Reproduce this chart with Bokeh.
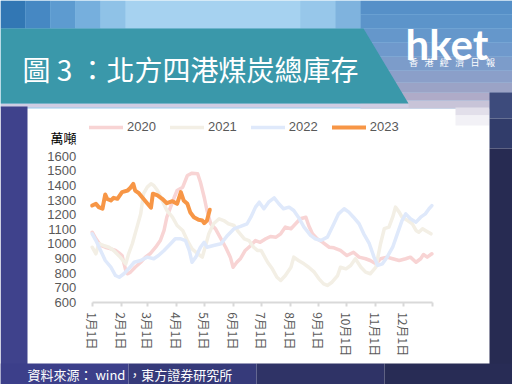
from bokeh.plotting import figure
from bokeh.models import (FixedTicker, Legend, LegendItem, Label, LinearAxis, Range1d)
from bokeh.embed import file_html
from bokeh.resources import INLINE

title_text = "圖 3 ：北方四港煤炭總庫存"
source_text = "資料來源： wind ，東方證券研究所"
unit_text = "萬噸"
logo_text = "hket"
logo_sub = ["香", "港", "經", "濟", "日", "報"]

month_days = [0, 31, 59, 90, 120, 151, 181, 212, 243, 273, 304, 334, 365]
month_labels = ["1月1日", "2月1日", "3月1日", "4月1日", "5月1日", "6月1日",
                "7月1日", "8月1日", "9月1日", "10月1日", "11月1日", "12月1日", ""]
y_ticks = [600, 700, 800, 900, 1000, 1100, 1200, 1300, 1400, 1500, 1600]

days_2020 = [0,4,9,14,20,25,29,32,36,38,41,46,52,57,62,68,73,77,80,84,88,91,97,102,107,113,116,120,123,127,
             132,138,143,148,151,155,159,164,170,175,180,186,191,197,202,207,213,218,223,229,232,236,241,247,254,
             259,266,273,280,286,293,298,304,309,316,322,329,336,341,347,352,355,359,364]
vals_2020 = [1080,1035,989,977,966,955,936,920,817,795,806,840,874,909,932,977,1023,1092,1183,1252,1320,1366,
             1389,1469,1485,1481,1423,1320,1229,1138,1104,1035,977,909,840,874,900,955,989,1023,1011,1035,1051,
             1046,1069,1115,1104,1138,1172,1183,1126,1069,1035,1011,977,973,955,920,943,909,898,886,863,898,909,
             898,886,898,909,874,898,927,909,932]

days_2021 = [0,4,7,12,18,23,30,36,39,43,48,52,55,59,63,66,70,75,80,86,91,97,102,107,113,118,121,125,130,136,
             141,146,152,157,163,168,173,177,181,188,193,198,202,207,213,216,221,227,232,238,243,248,252,257,263,
             266,272,277,282,288,293,298,304,309,313,318,322,325,329,332,338,343,347,350,354,357,363]
vals_2021 = [977,932,1001,989,977,955,909,863,932,1001,1115,1206,1344,1389,1412,1400,1366,1298,1229,1183,1126,
             1092,1023,966,932,909,977,1069,1138,1172,1160,1138,1126,1080,1035,1023,977,955,955,874,829,771,749,
             783,840,909,886,863,840,806,760,726,715,737,783,840,829,852,898,840,806,795,840,1001,1104,1115,1183,
             1252,1218,1183,1160,1138,1092,1080,1104,1092,1069]

days_2022 = [0,4,9,14,20,25,29,34,39,45,52,59,66,71,77,84,89,95,100,104,107,111,116,120,123,130,138,145,152,159,
             166,170,175,179,184,189,195,200,205,211,216,221,227,234,239,245,252,259,264,270,275,280,286,291,297,
             302,306,311,316,322,327,332,336,341,347,352,357,361,364]
vals_2022 = [1069,1023,955,886,840,783,771,795,829,874,886,909,898,920,955,1001,1035,1035,1023,955,874,909,977,
             1011,977,989,1001,1058,1104,1120,1138,1183,1252,1286,1241,1286,1316,1275,1241,1252,1229,1183,1115,
             1058,1035,1023,1046,1138,1206,1241,1218,1183,1138,1069,1001,909,852,863,909,977,1069,1160,1206,1172,
             1149,1183,1206,1241,1263]

days_2023 = [0,4,7,11,14,16,20,23,27,32,38,41,44,46,50,54,58,63,65,70,75,80,86,91,95,98,102,105,109,114,118,120,123,126]
vals_2023 = [1263,1275,1252,1241,1339,1309,1298,1316,1309,1355,1366,1385,1412,1366,1348,1316,1286,1248,1344,1332,
             1309,1279,1293,1275,1355,1298,1275,1217,1183,1165,1160,1142,1160,1234]

series_names = ["2020", "2021", "2022", "2023"]
series_days = [days_2020, days_2021, days_2022, days_2023]
series_vals = [vals_2020, vals_2021, vals_2022, vals_2023]
series_colors = ["#f8d4d4", "#f3efe5", "#dfe9fb", "#f79646"]
series_widths = [3.5, 3.5, 3.5, 4]

# ---- layout (canvas pixels, top-left origin) ----
W, H = 512, 384
chart_left, chart_right = 91.7, 432.3
chart_top, chart_bottom = 155.9, 301.7
x_min, x_max = 0, 365
y_min, y_max = 600, 1600
kx = (chart_right - chart_left) / (x_max - x_min)
ky = (chart_bottom - chart_top) / (y_max - y_min)
days_range = Range1d(x_min - chart_left / kx, x_max + (W - chart_right) / kx)
vals_range = Range1d(y_min - (H - chart_bottom) / ky, y_max + chart_top / ky)

p = figure(width=W, height=H, x_range=Range1d(0, W), y_range=Range1d(H, 0),
           x_axis_location=None, y_axis_location=None,
           output_backend="svg", toolbar_location=None, min_border=0)
p.extra_x_ranges = {"days": days_range}
p.extra_y_ranges = {"vals": vals_range}
p.outline_line_color = None
p.border_fill_color = "white"
p.background_fill_color = "white"
p.xgrid.visible = False
p.ygrid.visible = False

# ---- page decorations ----
boxes = [
    (0, 512, 0, 108, "#98caec"),
    (0, 25, 0, 28, "#3277b4"),
    (25, 50, 0, 28, "#4688c3"),
    (50, 75, 0, 28, "#5d9bd0"),
    (75, 100, 0, 28, "#76afdd"),
    (100, 125, 0, 28, "#8fc2e7"),
    (125, 300, 0, 28, "#a6d2f0"),
    (300, 335, 0, 28, "#97c7ea"),
    (335, 360, 0, 28, "#7fb3de"),
    (360, 512, 0, 14, "#5690c8"),
    (360, 512, 14, 28, "#5c94ca"),
    (360, 512, 28, 42, "#6597cb"),
    (360, 512, 42, 56, "#6f99cc"),
    (360, 512, 56, 70, "#7c9cca"),
    (360, 512, 70, 82, "#8b9fc9"),
    (360, 512, 82, 92, "#9ba3c6"),
    (360, 512, 92, 100, "#afabc8"),
    (360, 512, 100, 108, "#c8c4d8"),
    (0, 408, 103, 107, "#cfcde3"),
    (455, 489, 107, 115, "#e2dfea"),
    (455, 489, 115, 125, "#f2f1f6"),
    (0, 27, 106, 384, "#3f428c"),
    (489, 512, 92, 118, "#3d4b7c"),
    (489, 512, 118, 148, "#313c6a"),
    (489, 512, 148, 384, "#272b52"),
    (0, 128, 363, 384, "#3c3f8a"),
    (128, 256, 363, 384, "#363a7a"),
    (256, 384, 363, 384, "#2f3366"),
    (384, 512, 363, 384, "#282c55"),
]
p.quad(left=[b[0] for b in boxes], right=[b[1] for b in boxes],
       top=[b[2] for b in boxes], bottom=[b[3] for b in boxes],
       fill_color=[b[4] for b in boxes], line_color=None)
p.patch(x=[0, 363, 408, 0], y=[28, 28, 103, 103], fill_color="#3a98aa", line_color=None)

p.add_layout(Label(x=22, y=68, text=title_text,
                   text_font="Noto Sans CJK TC", text_font_size="28px", text_color="white",
                   text_baseline="middle", text_align="left"))
p.add_layout(Label(x=405, y=43, text=logo_text,
                   text_font="Lato", text_font_style="bold", text_font_size="42px", text_color="white",
                   text_baseline="alphabetic", text_align="left"))
for i, ch in enumerate(logo_sub):
    p.add_layout(Label(x=413 + i * 15.4, y=62, text=ch,
                       text_font="Noto Sans CJK TC", text_font_size="9px",
                       text_color="white", text_baseline="middle", text_align="center"))
p.add_layout(Label(x=27, y=374, text=source_text,
                   text_font="Noto Sans CJK TC", text_font_size="13px", text_color="white",
                   text_baseline="middle", text_align="left"))
p.add_layout(Label(x=76, y=137, text=unit_text,
                   text_font="Noto Sans CJK TC", text_font_size="13px", text_color="black",
                   text_baseline="middle", text_align="right"))

# ---- series ----
renderers = []
for name, d, v, c, w in zip(series_names, series_days, series_vals, series_colors, series_widths):
    r = p.line(d, v, line_color=c, line_width=w, line_join="round", line_cap="round",
               x_range_name="days", y_range_name="vals")
    renderers.append(r)

legend = Legend(items=[LegendItem(label=n, renderers=[r]) for n, r in zip(series_names, renderers)],
                orientation="horizontal", location=(89, 250),
                glyph_width=34, glyph_height=14, label_height=14, label_standoff=4, spacing=14,
                padding=0, margin=0, border_line_color=None, background_fill_alpha=0,
                label_text_font="Liberation Sans", label_text_font_size="13px", label_text_color="#595959")
p.add_layout(legend)

# ---- axes ----
xa = LinearAxis(x_range_name="days", y_range_name="vals", fixed_location=y_min, bounds=(x_min, x_max))
xa.ticker = FixedTicker(ticks=month_days)
xa.major_label_overrides = {d: l for d, l in zip(month_days, month_labels)}
xa.major_label_orientation = "vertical"
xa.axis_line_color = "#d9d9d9"
xa.axis_line_width = 2
xa.major_tick_line_color = "#d9d9d9"
xa.major_tick_line_width = 2
xa.major_tick_in = 0
xa.major_tick_out = 4
xa.minor_tick_line_color = None
xa.major_label_standoff = 6
xa.major_label_text_font = "Noto Sans CJK TC"
xa.major_label_text_font_size = "12px"
xa.major_label_text_color = "#595959"
p.add_layout(xa, "below")

ya = LinearAxis(x_range_name="days", y_range_name="vals", fixed_location=x_min)
ya.ticker = FixedTicker(ticks=y_ticks)
ya.axis_line_color = None
ya.major_tick_line_color = None
ya.minor_tick_line_color = None
ya.major_tick_in = 0
ya.major_tick_out = 0
ya.major_label_standoff = 16
ya.major_label_text_font = "Liberation Sans"
ya.major_label_text_font_size = "13px"
ya.major_label_text_color = "#595959"
p.add_layout(ya, "left")

open("out.html", "w").write(file_html(p, INLINE))
